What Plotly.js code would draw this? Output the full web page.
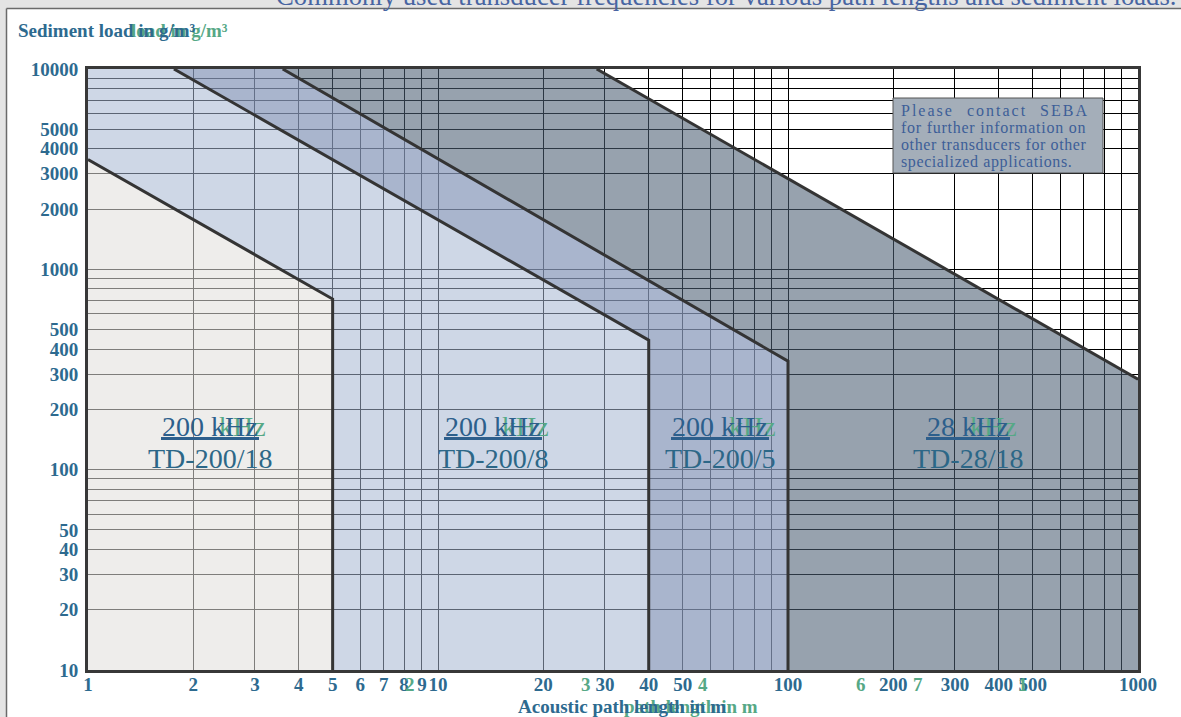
<!DOCTYPE html>
<html><head><meta charset="utf-8">
<script src="https://cdn.plot.ly/plotly-3.0.1.min.js"></script>
<style>html,body{margin:0;padding:0;background:#fff;overflow:hidden}#chart{width:1181px;height:717px;}</style>
</head><body><div id="chart"></div>
<script>
// ---------------- data ----------------
const xTickVals = [1,2,3,4,5,6,7,8,9,10,20,30,40,50,60,70,80,90,100,200,300,400,500,600,700,800,900,1000];
const xTickText = ['1','2','3','4','5','6','7','8','9','10','20','30','40','50','','','','','100','200','300','400','500','','','','','1000'];
const yTickVals = [10,20,30,40,50,60,70,80,90,100,200,300,400,500,600,700,800,900,1000,2000,3000,4000,5000,6000,7000,8000,9000,10000];
const yTickText = ['10','20','30','40','50','','','','','100','200','300','400','500','','','','','1000','2000','3000','4000','5000','','','','','10000'];
const xRange = [1, 1000];
const yRange = [10, 10000];

// limit curves (path length in m, sediment load in g/m³)
const td200_18X = [1, 5, 5];
const td200_18Y = [3530, 711, 10];
const td200_8X = [1.76, 40, 40];
const td200_8Y = [10000, 443, 10];
const td200_5X = [3.6, 100, 100];
const td200_5Y = [10000, 348, 10];
const td28_18X = [28.4, 1000];
const td28_18Y = [10000, 283];

const regionFreq = ['200 kHz', '200 kHz', '200 kHz', '28 kHz'];
const regionName = ['TD-200/18', 'TD-200/8', 'TD-200/5', 'TD-28/18'];

const titleText = 'Commonly used transducer frequencies for various path lengths and sediment loads.';
const yTitleText = 'Sediment load in g/m³';
const xTitleText = 'Acoustic path length in m';
const noteLines = ['Please contact SEBA', 'for further information on', 'other transducers for other', 'specialized applications.'];
const ghostTickText = ['2', '3', '4', '6', '7', '1'];

// ---------------- layout helpers ----------------
const PL = 88, PR = 1138, PT = 69, PB = 670;
const px = v => (v - PL) / (PR - PL);
const py = v => (PB - v) / (PB - PT);
const SERIF = 'Liberation Serif, Times New Roman, serif';
const BLUE = '#2D6A8F';
const GREEN = '#56A886';
const rev = a => a.slice().reverse();

// ---------------- traces ----------------
const traces = [];
// light grey region
traces.push({x: [xRange[0]].concat(td200_18X), y: [yRange[0]].concat(td200_18Y),
  mode: 'none', fill: 'toself', fillcolor: 'rgba(224,223,219,0.56)', hoverinfo: 'skip'});
// light blue region
traces.push({x: [xRange[0]].concat(td200_8X, rev(td200_18X)), y: [yRange[1]].concat(td200_8Y, rev(td200_18Y)),
  mode: 'none', fill: 'toself', fillcolor: 'rgba(166,183,209,0.55)', hoverinfo: 'skip'});
// medium blue region
traces.push({x: td200_5X.concat(rev(td200_8X)), y: td200_5Y.concat(rev(td200_8Y)),
  mode: 'none', fill: 'toself', fillcolor: 'rgba(137,153,186,0.73)', hoverinfo: 'skip'});
// dark grey region
traces.push({x: td28_18X.concat([xRange[1]], rev(td200_5X)), y: td28_18Y.concat([yRange[0]], rev(td200_5Y)),
  mode: 'none', fill: 'toself', fillcolor: 'rgba(76,94,115,0.58)', hoverinfo: 'skip'});
// boundary lines
[[td200_18X, td200_18Y], [td200_8X, td200_8Y], [td200_5X, td200_5Y], [td28_18X, td28_18Y]].forEach(function (c) {
  traces.push({x: c[0], y: c[1], mode: 'lines', line: {color: '#343434', width: 3}, hoverinfo: 'skip'});
});

// ---------------- annotations & shapes ----------------
const ann = [];
const shapes = [];

// frame strips
shapes.push({type: 'rect', xref: 'paper', yref: 'paper', x0: px(0), x1: px(6.5), y0: py(717), y1: py(0), fillcolor: '#E4E4E4', line: {width: 0}, layer: 'below'});
shapes.push({type: 'rect', xref: 'paper', yref: 'paper', x0: px(0), x1: px(1181), y0: py(8.5), y1: py(0), fillcolor: '#E4E4E4', line: {width: 0}, layer: 'below'});
shapes.push({type: 'line', xref: 'paper', yref: 'paper', x0: px(6.5), x1: px(1181), y0: py(8.5), y1: py(8.5), line: {color: '#6a6a6a', width: 1.5}});
shapes.push({type: 'line', xref: 'paper', yref: 'paper', x0: px(6.5), x1: px(6.5), y0: py(8.5), y1: py(717), line: {color: '#6a6a6a', width: 1.5}});

// top title (cut by page edge)
ann.push({xref: 'paper', yref: 'paper', x: px(1178), y: py(-4), xanchor: 'right', yanchor: 'middle', showarrow: false,
  text: titleText, font: {family: SERIF, size: 26.7, color: '#4865A2'}});

// y title with ghost overlay
ann.push({xref: 'paper', yref: 'paper', x: px(129), y: py(30), xanchor: 'left', yanchor: 'middle', showarrow: false,
  text: '<b>' + yTitleText.slice(9) + '</b>', font: {family: SERIF, size: 19, color: GREEN}});
ann.push({xref: 'paper', yref: 'paper', x: px(16), y: py(30), xanchor: 'left', yanchor: 'middle', showarrow: false,
  text: '<b>' + yTitleText + '</b>', font: {family: SERIF, size: 19, color: BLUE}});

// x title with ghost overlay
ann.push({xref: 'paper', yref: 'paper', x: px(622), y: py(706), xanchor: 'left', yanchor: 'middle', showarrow: false,
  text: '<b>' + xTitleText.slice(9) + '</b>', font: {family: SERIF, size: 19, color: GREEN}});
ann.push({xref: 'paper', yref: 'paper', x: px(516), y: py(706), xanchor: 'left', yanchor: 'middle', showarrow: false,
  text: '<b>' + xTitleText + '</b>', font: {family: SERIF, size: 19, color: BLUE}});

// ghost tick digits
const ghostTickPx = [410, 586, 703, 861, 918, 1023];
ghostTickText.forEach(function (t, i) {
  ann.push({xref: 'paper', yref: 'paper', x: px(ghostTickPx[i]), y: py(684), xanchor: 'center', yanchor: 'middle', showarrow: false,
    text: '<b>' + t + '</b>', font: {family: SERIF, size: 19, color: GREEN}});
});

// region labels
const regionCenterPx = [210, 493, 720, 968];
const regionHalfW = [48, 48, 48, 41];
regionFreq.forEach(function (f, i) {
  const c = regionCenterPx[i];
  ann.push({xref: 'paper', yref: 'paper', x: px(c + regionHalfW[i] + 10), y: py(426), xanchor: 'right', yanchor: 'middle', showarrow: false,
    text: 'kHz', font: {family: SERIF, size: 28, color: GREEN}});
  ann.push({xref: 'paper', yref: 'paper', x: px(c), y: py(426), xanchor: 'center', yanchor: 'middle', showarrow: false,
    text: f, font: {family: SERIF, size: 28, color: '#2C5F8C'}});
  ann.push({xref: 'paper', yref: 'paper', x: px(c), y: py(458), xanchor: 'center', yanchor: 'middle', showarrow: false,
    text: regionName[i], font: {family: SERIF, size: 28, color: '#2C6787'}});
  shapes.push({type: 'line', xref: 'paper', yref: 'paper', x0: px(c - regionHalfW[i] - 1), x1: px(c + regionHalfW[i] + 1), y0: py(438.5), y1: py(438.5),
    line: {color: '#2E5F8C', width: 3}});
});

// note box
shapes.push({type: 'rect', xref: 'paper', yref: 'paper', x0: px(893), x1: px(1103), y0: py(173), y1: py(98),
  fillcolor: '#A4AEB9', line: {color: '#555', width: 1}});
const noteSpacing = ['letter-spacing:2.0px;word-spacing:7px', 'letter-spacing:0.75px', 'letter-spacing:0.6px', 'letter-spacing:0.6px'];
noteLines.forEach(function (t, i) {
  ann.push({xref: 'paper', yref: 'paper', x: px(899), y: py(110 + i * 17.4), xanchor: 'left', yanchor: 'middle', showarrow: false,
    text: '<span style="' + noteSpacing[i] + '">' + t + '</span>', font: {family: SERIF, size: 16, color: '#3D5E98'}});
});

const axisCommon = {
  type: 'log', showgrid: true, gridcolor: '#000', gridwidth: 1, zeroline: false,
  showline: true, mirror: true, linecolor: '#383838', linewidth: 3, ticks: '', tickangle: 0,
  tickfont: {family: SERIF, size: 19, color: BLUE, weight: 'bold'}, fixedrange: true
};

const layout = {
  width: 1181, height: 717,
  margin: {l: PL, r: 1181 - PR, t: PT, b: 717 - PB, pad: 0},
  paper_bgcolor: '#fff', plot_bgcolor: '#fff',
  showlegend: false, hovermode: false,
  xaxis: Object.assign({}, axisCommon, {range: [Math.log10(xRange[0]), Math.log10(xRange[1])], tickvals: xTickVals, ticktext: xTickText, ticklabelstandoff: -5}),
  yaxis: Object.assign({}, axisCommon, {range: [Math.log10(yRange[0]), Math.log10(yRange[1])], tickvals: yTickVals, ticktext: yTickText, ticklabelstandoff: 3}),
  annotations: ann,
  shapes: shapes
};

Plotly.newPlot('chart', traces, layout, {staticPlot: true, displayModeBar: false});
</script>
</body></html>
